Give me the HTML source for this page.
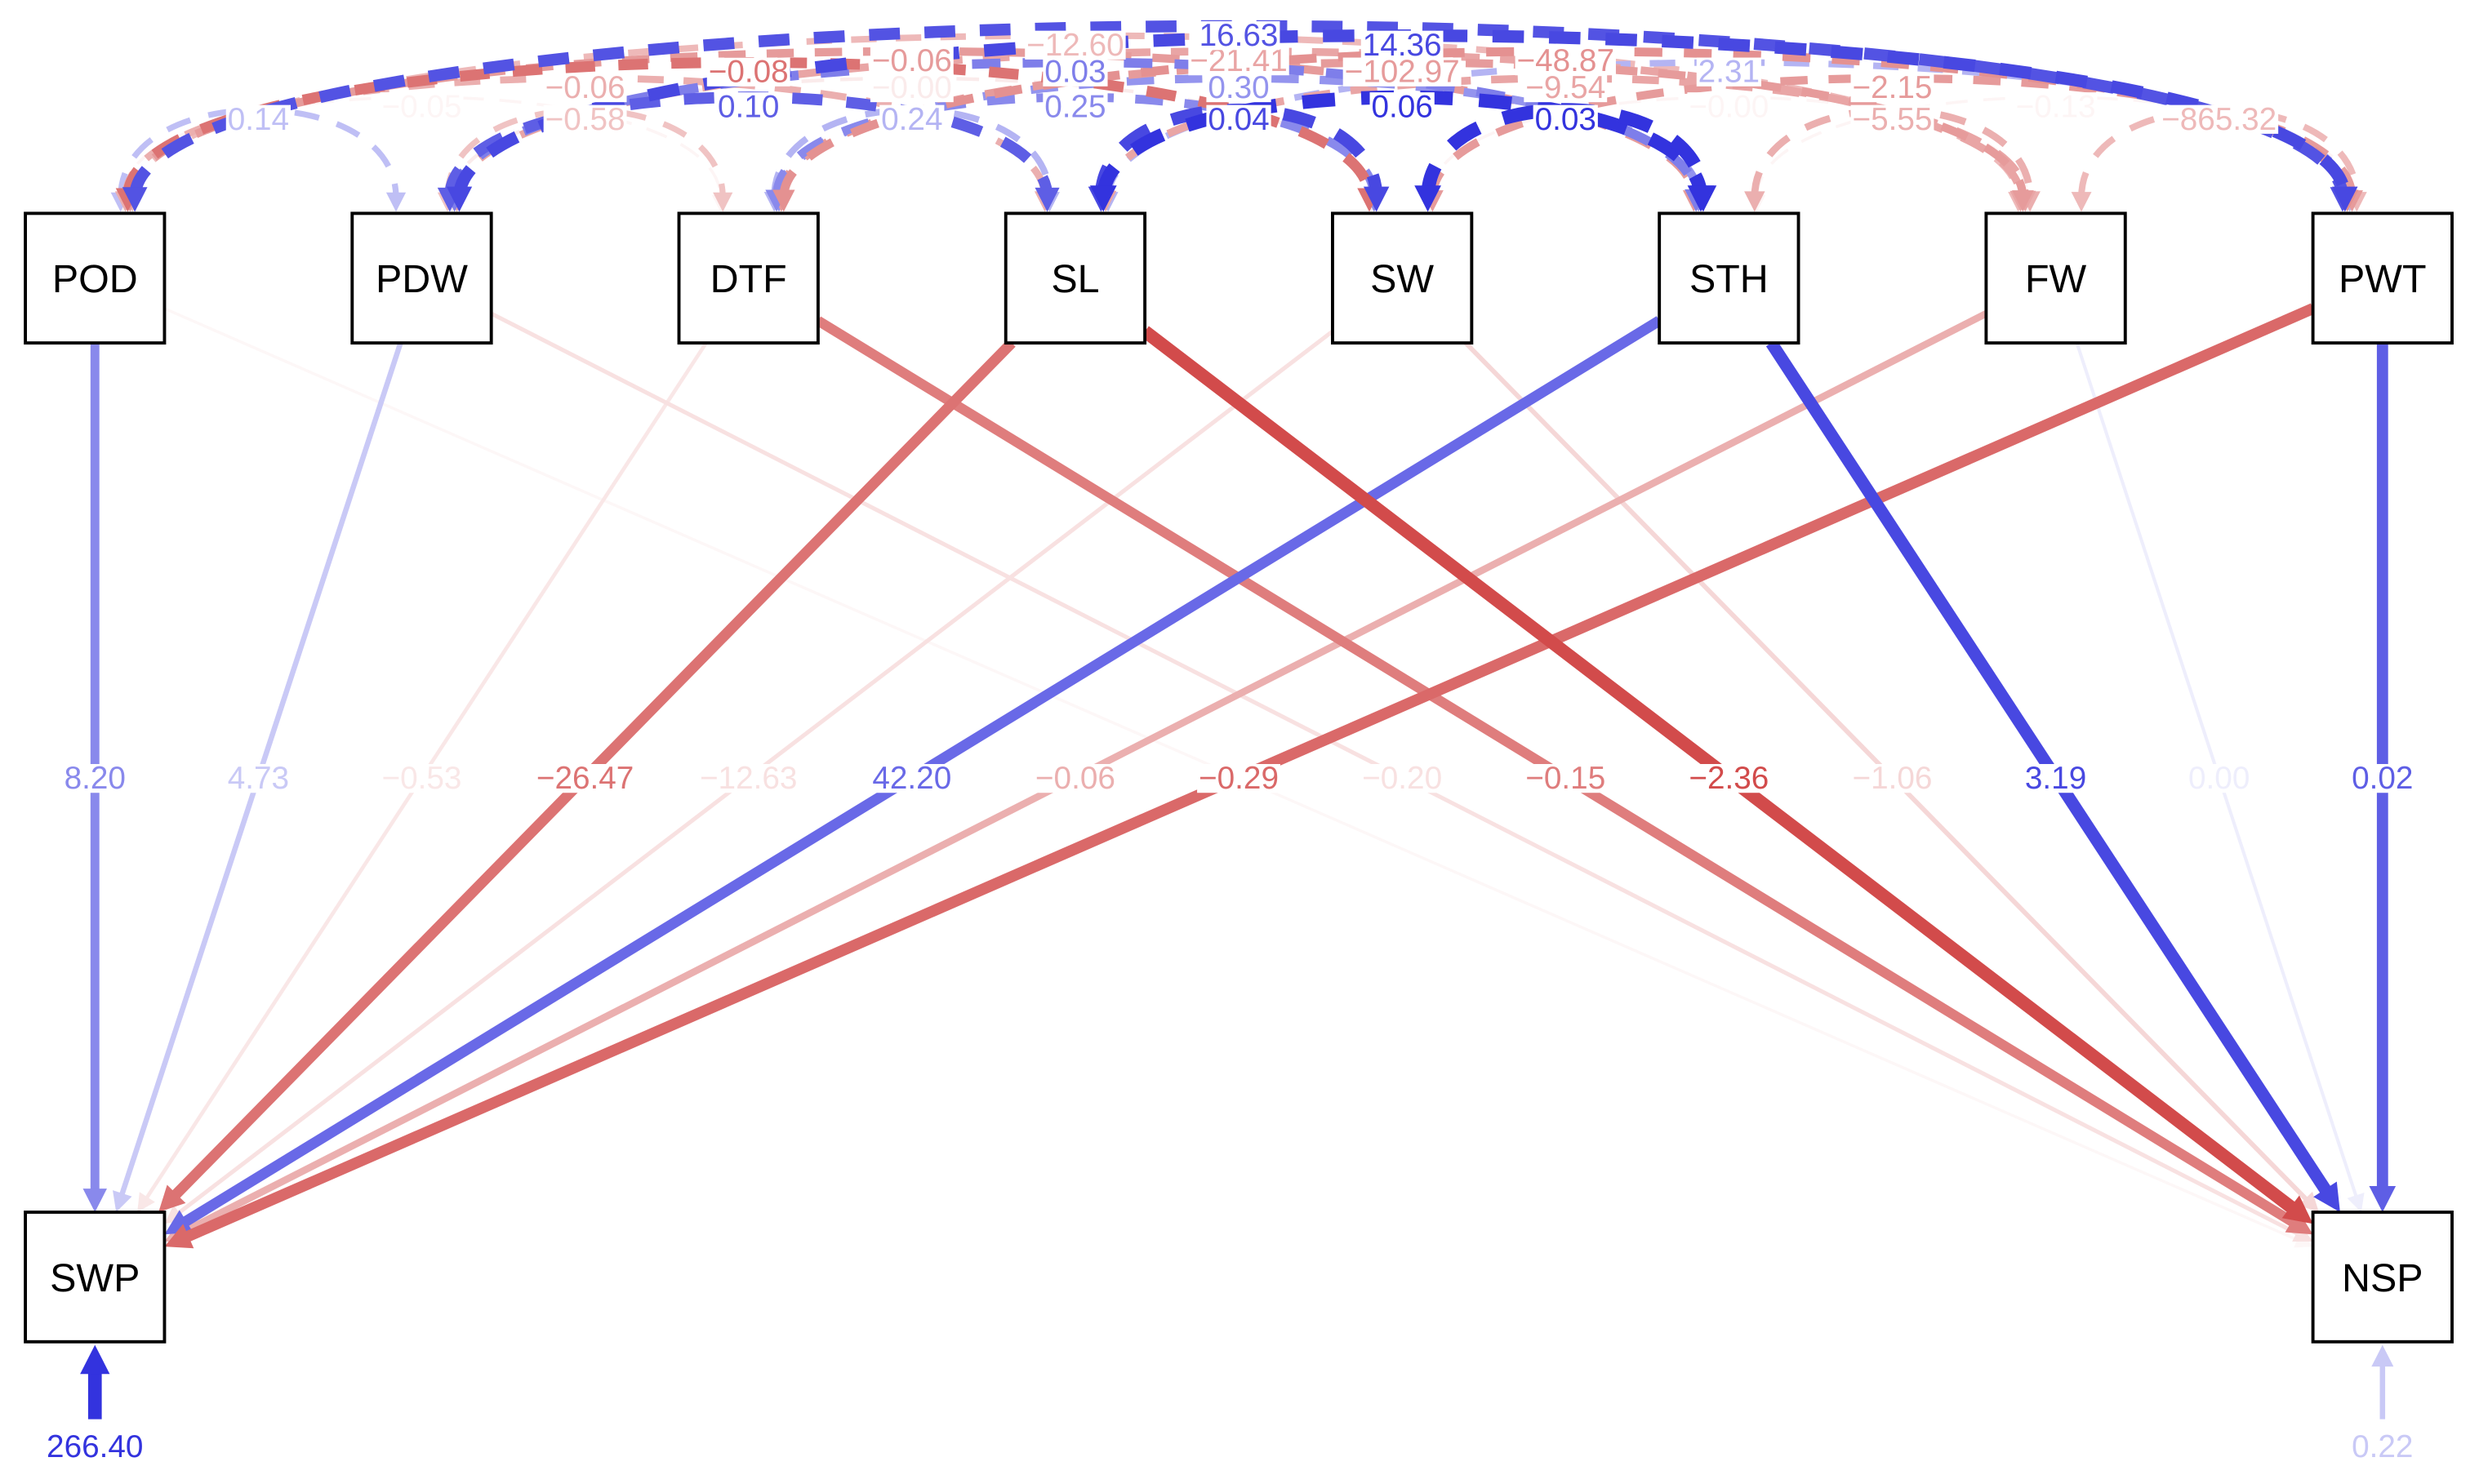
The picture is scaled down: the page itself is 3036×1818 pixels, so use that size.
<!DOCTYPE html>
<html><head><meta charset="utf-8"><style>
html,body{margin:0;padding:0;background:#fff;}
svg{display:block;}
text{font-family:"Liberation Sans",sans-serif;}
</style></head><body>
<svg id="chart" width="3036" height="1818" viewBox="0 0 1568 939" xmlns="http://www.w3.org/2000/svg">
<defs></defs>
<g id="covs"></g>
<g id="paths"></g>
<g id="labels"></g>
<g id="nodes"></g>
</svg>
<script>
const topNodes = ["POD","PDW","DTF","SL","SW","STH","FW","PWT"];
const bottomNodes = ["SWP","NSP"];
// regression estimates: predictor -> SWP, then predictor -> NSP
const swpEst = ["8.20","4.73","−0.53","−26.47","−12.63","42.20","−0.06","−0.29"];
const swpStd = [0.55,0.25,-0.12,-0.7,-0.15,0.7,-0.4,-0.75];
const nspEst = ["","−0.20","−0.15","−2.36","−1.06","3.19","0.00","0.02"];
const nspStd = [-0.04,-0.15,-0.65,-0.9,-0.2,0.85,0.08,0.75];
const residLabels = ["266.40","0.22"];
const residStd = [0.95,0.25];
// covariances among top nodes: [i, j]
const covPairs = [[0,1],[0,2],[0,3],[1,2],[0,4],[1,3],[2,3],[0,5],[1,4],[0,6],[1,5],[2,4],[3,4],[2,5],[1,6],[0,7],[1,7],[2,6],[3,5],[2,7],[3,6],[4,5],[3,7],[4,6],[4,7],[5,6],[5,7],[6,7]];
const covEst = ["0.14","−0.05","−0.06","−0.58","−0.08","0.10","0.24","−0.06","−0.00","−12.60","0.03","0.25","0.04","0.30","−21.41","16.63","14.36","−102.97","0.06","−48.87","−9.54","0.03","2.31","−0.00","−2.15","−5.55","−0.13","−865.32"];
const covStd = [0.3,-0.05,-0.4,-0.3,-0.7,0.75,0.35,-0.5,-0.1,-0.35,0.6,0.55,0.85,0.5,-0.45,0.8,0.85,-0.5,0.95,-0.55,-0.45,0.95,0.35,-0.05,-0.5,-0.4,-0.05,-0.35];

const NS="http://www.w3.org/2000/svg";
const svg=document.getElementById('chart');
const W=88,H=82;
const topY=135, botY=767;
const xOf=i=>60+i*(1507-60)/7;
const botX=[60,1507];
function col(s){
  const a=Math.min(1,Math.abs(s));
  const full=s>=0?[40,40,220]:[205,55,55];
  const c=full.map(v=>Math.round(255*(1-a)+v*a));
  return `rgb(${c[0]},${c[1]},${c[2]})`;
}
function wid(s){return 1.5+7.5*Math.min(1,Math.abs(s));}
function el(tag,attrs,parent){const e=document.createElementNS(NS,tag);for(const k in attrs)e.setAttribute(k,attrs[k]);parent.appendChild(e);return e;}
function arrowHead(x,y,ang,size,color,parent){
  const a1=ang+Math.PI*0.85,a2=ang-Math.PI*0.85;
  const p=`${x},${y} ${x+size*Math.cos(a1)},${y+size*Math.sin(a1)} ${x+size*Math.cos(a2)},${y+size*Math.sin(a2)}`;
  const h=el('polygon',{points:p,fill:color},parent);
  return h;
}
function boxHit(cx,cy,tx,ty){ // intersection of ray center->target with box border
  const dx=tx-cx,dy=ty-cy;
  const sx=dx!==0?(W/2)/Math.abs(dx):Infinity, sy=dy!==0?(H/2)/Math.abs(dy):Infinity;
  const s=Math.min(sx,sy);
  return [cx+dx*s,cy+dy*s];
}
const gP=document.getElementById('paths'), gL=document.getElementById('labels'), gC=document.getElementById('covs'), gN=document.getElementById('nodes');
function label(x,y,txt,s,parent,name){
  if(!txt)return;
  const t=el('text',{x:x,y:y+7,'text-anchor':'middle','font-size':20,fill:col(s)},parent);
  t.textContent=txt;
  
  
  const bb=t.getBBox();
  const r=el('rect',{x:bb.x-1,y:bb.y+2,width:bb.width+2,height:bb.height-4,fill:'#fff'},parent);
  parent.insertBefore(r,t);
}
// regression paths (draw faint first)
const edges=[];
for(let i=0;i<8;i++){edges.push([i,0,swpStd[i],swpEst[i]]);edges.push([i,1,nspStd[i],nspEst[i]]);}
edges.sort((a,b)=>Math.abs(a[2])-Math.abs(b[2]));
edges.forEach(([i,b,s,lab])=>{
  const scx=xOf(i),scy=topY+H/2,tcx=botX[b],tcy=botY+H/2;
  const [x1,y1]=boxHit(scx,scy,tcx,tcy);
  const [x2,y2]=boxHit(tcx,tcy,scx,scy);
  const ang=Math.atan2(y2-y1,x2-x1);
  const w=wid(s),hs=10+w*1.2;
  const ln=el('line',{x1:x1,y1:y1,x2:x2-Math.cos(ang)*hs*0.6,y2:y2-Math.sin(ang)*hs*0.6,stroke:col(s),'stroke-width':w},gP);
  
  
  arrowHead(x2,y2,ang,hs,col(s),gP);
});
edges.forEach(([i,b,s,lab])=>{
  const mx=(xOf(i)+botX[b])/2;
  label(mx,492,lab,s,gL,'path-label-'+topNodes[i]+'-'+bottomNodes[b]);
});
// covariance arcs
const order=covPairs.map((p,k)=>k).sort((a,b)=>Math.abs(covStd[a])-Math.abs(covStd[b]));
const labY=[0,75,67,55,45,38,28,22];
order.forEach(k=>{
  const [i,j]=covPairs[k],s=covStd[k],span=j-i;
  const off=(span-3.5)*3;
  const x1=xOf(i)+20+off*0.5, x2=xOf(j)-20-off*0.5;
  const ym=labY[span]-3;
  const yc=(ym-0.25*topY)/0.75;
  const c=col(s),w=wid(s);
  const p=el('path',{d:`M${x1},${topY-10} C${x1},${yc} ${x2},${yc} ${x2},${topY-10}`,fill:'none',stroke:c,'stroke-width':w,'stroke-dasharray':`${12+w},${8+w}`},gC);
  
  
  const hs=10+w;
  arrowHead(x1,topY-1,Math.PI/2,hs,c,gC);
  arrowHead(x2,topY-1,Math.PI/2,hs,c,gC);
});
order.forEach(k=>{
  const [i,j]=covPairs[k];
  label((xOf(i)+xOf(j))/2,labY[j-i],covEst[k],covStd[k],gL,'cov-label-'+topNodes[i]+'-'+topNodes[j]);
});
// residuals on bottom nodes
[0,1].forEach(b=>{
  const s=residStd[b],c=col(s),w=wid(s);
  const x=botX[b];
  const r=el('line',{x1:x,y1:898,x2:x,y2:864,stroke:c,'stroke-width':w},gP);
  
  
  arrowHead(x,851,-Math.PI/2,12+w,c,gP);
  const t=el('text',{x:x,y:922,'text-anchor':'middle','font-size':20,fill:c},gL);
  t.textContent=residLabels[b];
  
  
});
// nodes
function node(name,cx,y){
  const g=el('g',{},gN);
  
  
  el('rect',{x:cx-W/2+1,y:y+1,width:W,height:H,fill:'#ddd'},g);
  el('rect',{x:cx-W/2,y:y,width:W,height:H,fill:'#fff',stroke:'#000','stroke-width':2},g);
  const t=el('text',{x:cx,y:y+H/2+9,'text-anchor':'middle','font-size':25,fill:'#000'},g);
  t.textContent=name;
}
topNodes.forEach((n,i)=>node(n,xOf(i),topY));
bottomNodes.forEach((n,b)=>node(n,botX[b],botY));
</script>
</body></html>
